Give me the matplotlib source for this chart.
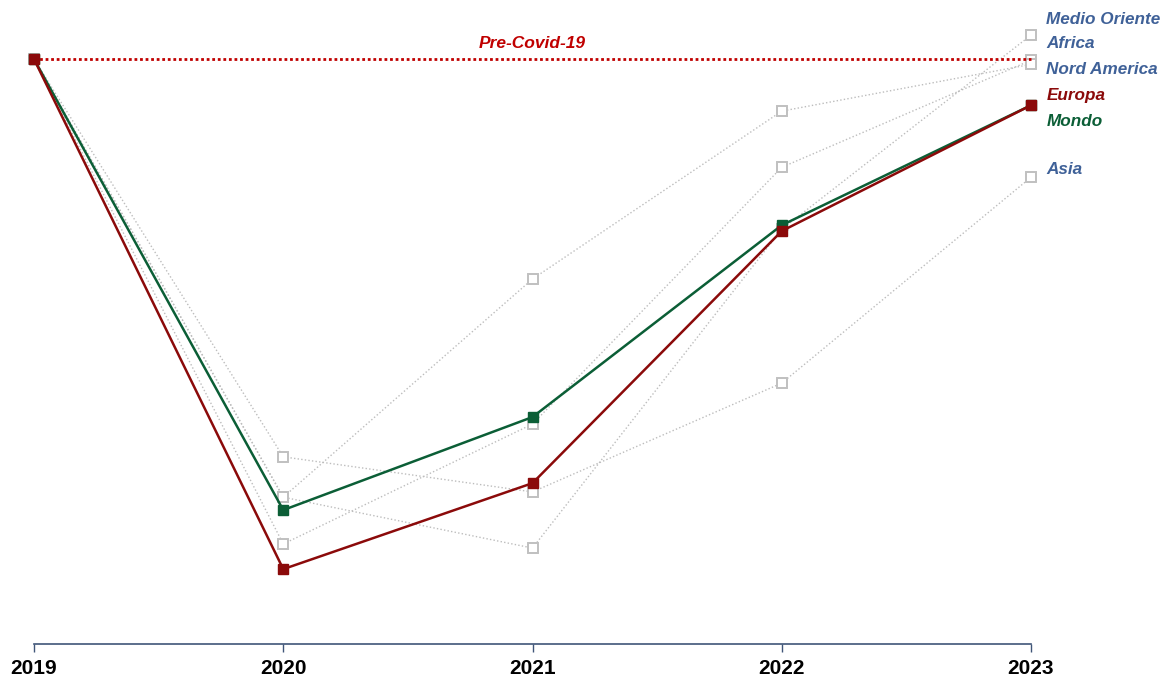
import matplotlib
matplotlib.use('Agg')
from matplotlib import pyplot as plt
from matplotlib import font_manager

# index 2019 = 100
anni = [2019, 2020, 2021, 2022, 2023]
mondo = [100, 22.9, 38.8, 71.6, 92.1]
europa = [100, 12.8, 27.5, 70.6, 92.1]
medio_oriente = [100, 25.1, 16.4, 70.9, 104.1]
africa = [100, 17.1, 37.6, 81.5, 99.8]
nord_america = [100, 25.1, 62.4, 91.1, 99.1]
asia = [100, 32.0, 26.0, 44.6, 79.8]
pre_covid = 100

etichette = ['Medio Oriente', 'Africa', 'Nord America', 'Europa', 'Mondo', 'Asia']

installati = set(f.name for f in font_manager.fontManager.ttflist)
narrow = [f for f in ['Liberation Sans Narrow', 'DejaVu Sans Condensed'] if f in installati]
font_anni = narrow + ['Liberation Sans'] if narrow else ['Liberation Sans']

fig = plt.figure(figsize=(11.67, 6.79), dpi=100)
ax = fig.add_axes([34/1167, 35/679, (1031-34)/1167, 644/679])

grigi = [medio_oriente, africa, nord_america, asia]
for serie in grigi:
    ax.plot(anni, serie, linestyle=(0, (1, 1.6)), color='#BDBDBD', lw=1.0,
            marker='s', ms=7, mfc='white', mec='#C0C0C0', mew=1.4, zorder=2,
            clip_on=False)

ax.plot([anni[0], anni[-1]], [pre_covid, pre_covid], linestyle=(0, (1, 1)),
        color='#C00000', lw=2.0, zorder=3, clip_on=False)
ax.text(2021, pre_covid + 1.4, 'Pre-Covid-19', color='#C00000', fontsize=12.5,
        fontweight='bold', fontstyle='italic', ha='center', va='bottom',
        family='Liberation Sans')

ax.plot(anni, mondo, color='#0B5E36', lw=1.8, marker='s', ms=7, zorder=4, clip_on=False)
ax.plot(anni, europa, color='#8B0A0A', lw=1.8, marker='s', ms=7, zorder=5, clip_on=False)

# label positions (data units) next to 2023
pos_y = [106.8, 102.6, 98.2, 93.8, 89.4, 81.2]
colori = ['#3F6198', '#3F6198', '#3F6198', '#8B0A0A', '#0B5E36', '#3F6198']
for nome, yy, c in zip(etichette, pos_y, colori):
    ax.annotate(nome, xy=(2023, yy), xytext=(11, 0), textcoords='offset points',
                color=c, fontsize=12.3, fontweight='bold', fontstyle='italic',
                ha='left', va='center', family='Liberation Sans',
                annotation_clip=False)

ax.set_xlim(2019, 2023)
ax.set_ylim(0, 110.1)
ax.set_xticks(anni)
ax.set_xticklabels([str(a) for a in anni], fontsize=16 if narrow else 15,
                   fontweight='bold', family=font_anni)
ax.set_yticks([])
for s in ['top', 'right', 'left']:
    ax.spines[s].set_visible(False)
ax.spines['bottom'].set_color('#3F5578')
ax.spines['bottom'].set_linewidth(1.2)
ax.tick_params(axis='x', direction='out', length=6, width=1, color='#3F5578', pad=5)

plt.savefig('out.png', dpi=100)
